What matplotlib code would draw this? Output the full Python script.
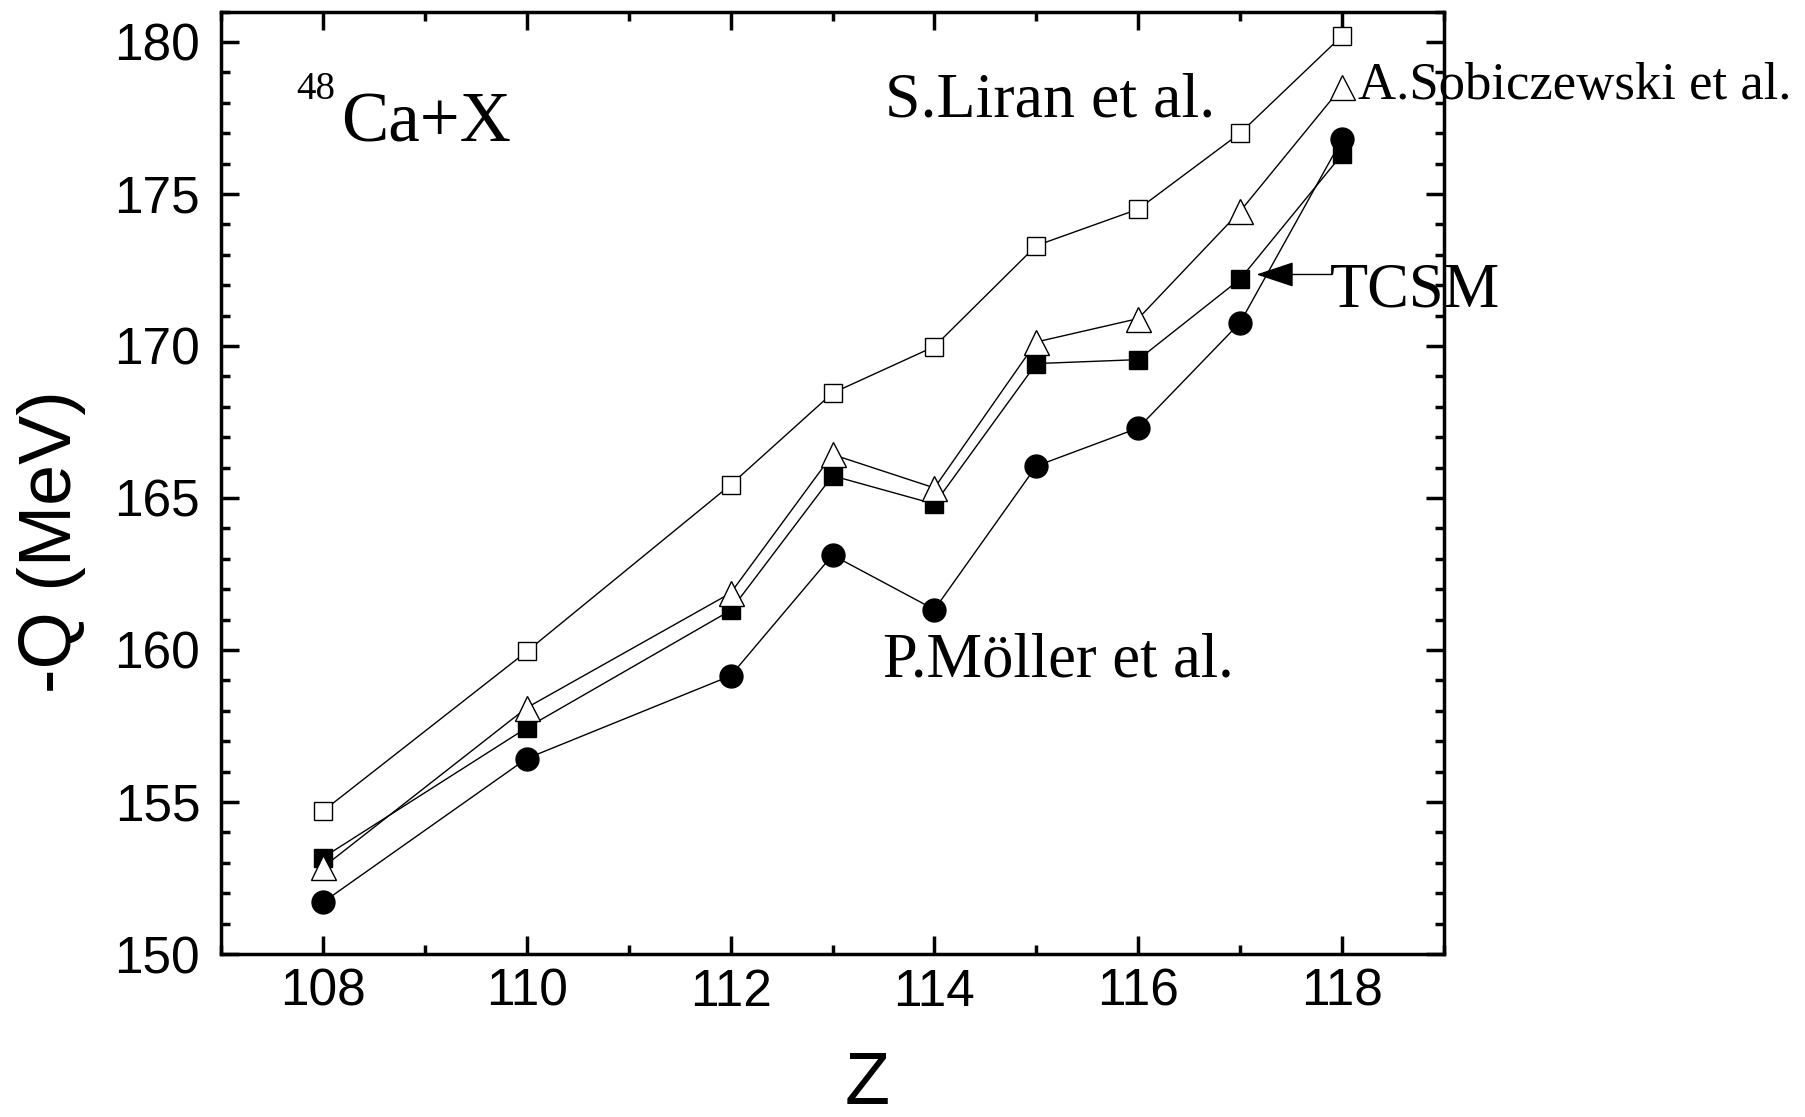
import matplotlib
matplotlib.use('Agg')
import matplotlib.pyplot as plt
from matplotlib import font_manager
from matplotlib.ticker import MultipleLocator

# Z of the compound nucleus and -Q values (MeV) for 48Ca + X
Z = [108, 110, 112, 113, 114, 115, 116, 117, 118]
liran = [154.70, 159.95, 165.43, 168.45, 169.98, 173.30, 174.50, 177.00, 180.20]
sobiczewski = [152.85, 158.10, 161.87, 166.43, 165.33, 170.13, 170.90, 174.43, 178.53]
tcsm = [153.17, 157.44, 161.30, 165.73, 164.80, 169.42, 169.55, 172.20, 176.30]
moller = [151.70, 156.43, 159.15, 163.12, 161.33, 166.05, 167.30, 170.77, 176.80]

names = {f.name for f in font_manager.fontManager.ttflist}
tick_font = 'Liberation Sans Narrow' if 'Liberation Sans Narrow' in names else 'Liberation Sans'
tick_size = 40 if tick_font == 'Liberation Sans Narrow' else 37
serif = 'Liberation Serif'

fig = plt.figure(figsize=(18.06, 11.17), dpi=100)
ax = fig.add_axes([221 / 1806, 1 - 954 / 1117, 1223 / 1806, 942.5 / 1117])

line_kw = dict(color='black', lw=1.0)
ax.plot(Z, liran, marker='s', ms=13, mfc='white', mec='black', mew=1.0, zorder=3, **line_kw)
ax.plot(Z, moller, marker='o', ms=16.5, mfc='black', mec='black', mew=1.0, zorder=3, **line_kw)
ax.plot(Z, tcsm, marker='s', ms=13.5, mfc='black', mec='black', mew=1.0, zorder=4, **line_kw)
ax.plot(Z, sobiczewski, marker='^', ms=18, mfc='white', mec='black', mew=1.0, zorder=5, **line_kw)

ax.set_xlim(107, 119)
ax.set_ylim(150, 181)
ax.xaxis.set_major_locator(MultipleLocator(2))
ax.xaxis.set_minor_locator(MultipleLocator(1))
ax.yaxis.set_major_locator(MultipleLocator(5))
ax.yaxis.set_minor_locator(MultipleLocator(1))

for s in ax.spines.values():
    s.set_linewidth(2.5)
ax.tick_params(which='both', direction='in', top=True, right=True, width=2.5)
ax.tick_params(which='major', length=13)
ax.tick_params(which='minor', length=6.5)
ax.tick_params(axis='y', pad=15)
ax.tick_params(axis='x', pad=10)
for lab in ax.get_xticklabels() + ax.get_yticklabels():
    lab.set_fontfamily(tick_font)
    lab.set_fontsize(tick_size)

ax.set_xlabel('Z', fontfamily='Liberation Sans', fontsize=53, va='center')
ax.xaxis.set_label_coords(0.528, -0.138)
ax.set_ylabel('-Q (MeV)', fontfamily='Liberation Sans', fontsize=53, va='center', ha='center')
ax.yaxis.set_label_coords(-0.139, 0.438)

# curve labels
ax.text(108.18, 176.74, 'Ca+X', fontfamily=serif, fontsize=51, va='baseline', ha='left')
ax.text(107.74, 178.13, '48', fontfamily=serif, fontsize=28, va='baseline', ha='left')
ax.text(113.52, 177.56, 'S.Liran et al.', fontfamily=serif, fontsize=46, va='baseline', ha='left')
ax.text(118.16, 178.11, 'A.Sobiczewski et al.', fontfamily=serif, fontsize=38,
        va='baseline', ha='left', clip_on=False, zorder=6)
ax.text(113.50, 159.12, 'P.Möller et al.', fontfamily=serif, fontsize=45, va='baseline', ha='left')
ax.text(117.88, 171.30, 'TCSM', fontfamily=serif, fontsize=45, va='baseline', ha='left',
        clip_on=False, zorder=6)
ax.annotate('', xy=(117.16, 172.35), xytext=(117.90, 172.35),
            arrowprops=dict(arrowstyle='-|>,head_length=24,head_width=8', mutation_scale=1,
                            color='black', lw=1.0, shrinkA=0, shrinkB=0))

fig.savefig('out.png', dpi=100)
